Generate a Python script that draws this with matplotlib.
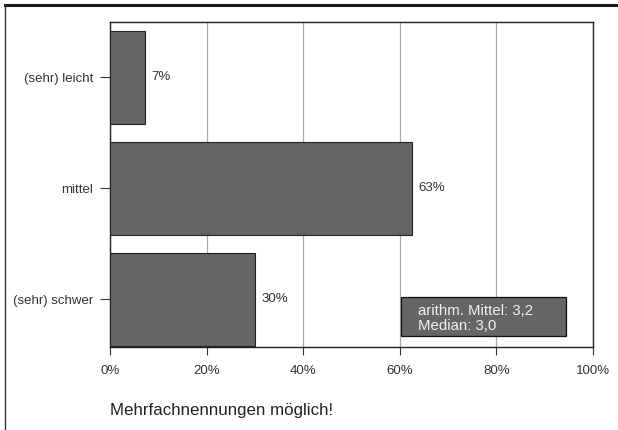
import matplotlib.pyplot as plt
from matplotlib.patches import Rectangle
from matplotlib.lines import Line2D

# data
categories = ["(sehr) leicht", "mittel", "(sehr) schwer"]
shares = [7.2, 62.6, 30.0]
bar_labels = ["7%", "63%", "30%"]
x_ticks = [0, 20, 40, 60, 80, 100]
x_tick_labels = ["0%", "20%", "40%", "60%", "80%", "100%"]
stats_text = "arithm. Mittel: 3,2\nMedian: 3,0"
note_text = "Mehrfachnennungen möglich!"

plt.rcParams["font.family"] = ["Liberation Sans", "DejaVu Sans"]

W, H = 618, 430
fig = plt.figure(figsize=(W / 100, H / 100), dpi=100)
ax = fig.add_axes([110 / W, 1 - 347 / H, (593 - 110) / W, (347 - 22) / H])

bar_color = "#666465"
ypos = list(range(len(categories)))
ax.barh(ypos, shares, height=0.84, color=bar_color, edgecolor="#222222",
        linewidth=0.8, zorder=3)
for y, v, lab in zip(ypos, shares, bar_labels):
    ax.text(v + 1.3, y, lab, va="center", ha="left", fontsize=9.5, color="#333333")

ax.set_xlim(0, 100)
ax.set_ylim(2.43, -0.5)
ax.set_yticks(ypos)
ax.set_yticklabels(categories, fontsize=9.5, color="#333333")
ax.set_xticks(x_ticks)
ax.set_xticklabels(x_tick_labels, fontsize=9.5, color="#333333")
ax.tick_params(axis="y", length=7, width=0.8, color="#333333", pad=5)
ax.tick_params(axis="x", length=6, width=0.8, color="#333333", pad=7)
ax.xaxis.grid(True, color="#aaaaaa", linewidth=0.9, zorder=0)
ax.set_axisbelow(True)
for s in ax.spines.values():
    s.set_color("#222222")
    s.set_linewidth(1.0)

# stats box
ax.add_patch(Rectangle((60.2, 1.98), 34.3, 0.35, facecolor=bar_color,
                       edgecolor="#111111", linewidth=0.9, zorder=4))
ax.text(63.8, 2.175, stats_text, va="center", ha="left", fontsize=10.8,
        color="#f2f2f2", linespacing=1.1, zorder=5)

# footnote
fig.text(110 / W, 1 - 410 / H, note_text, fontsize=12.2, color="#222222",
         va="center", ha="left")

# outer frame lines
fig.add_artist(Line2D([5 / W, 1], [1 - 5 / H, 1 - 5 / H], color="#1a1a1a",
                      linewidth=2.2, transform=fig.transFigure))
fig.add_artist(Line2D([5 / W, 5 / W], [1 - 5 / H, 0], color="#333333",
                      linewidth=1.0, transform=fig.transFigure))

fig.savefig("out.png", dpi=100)
